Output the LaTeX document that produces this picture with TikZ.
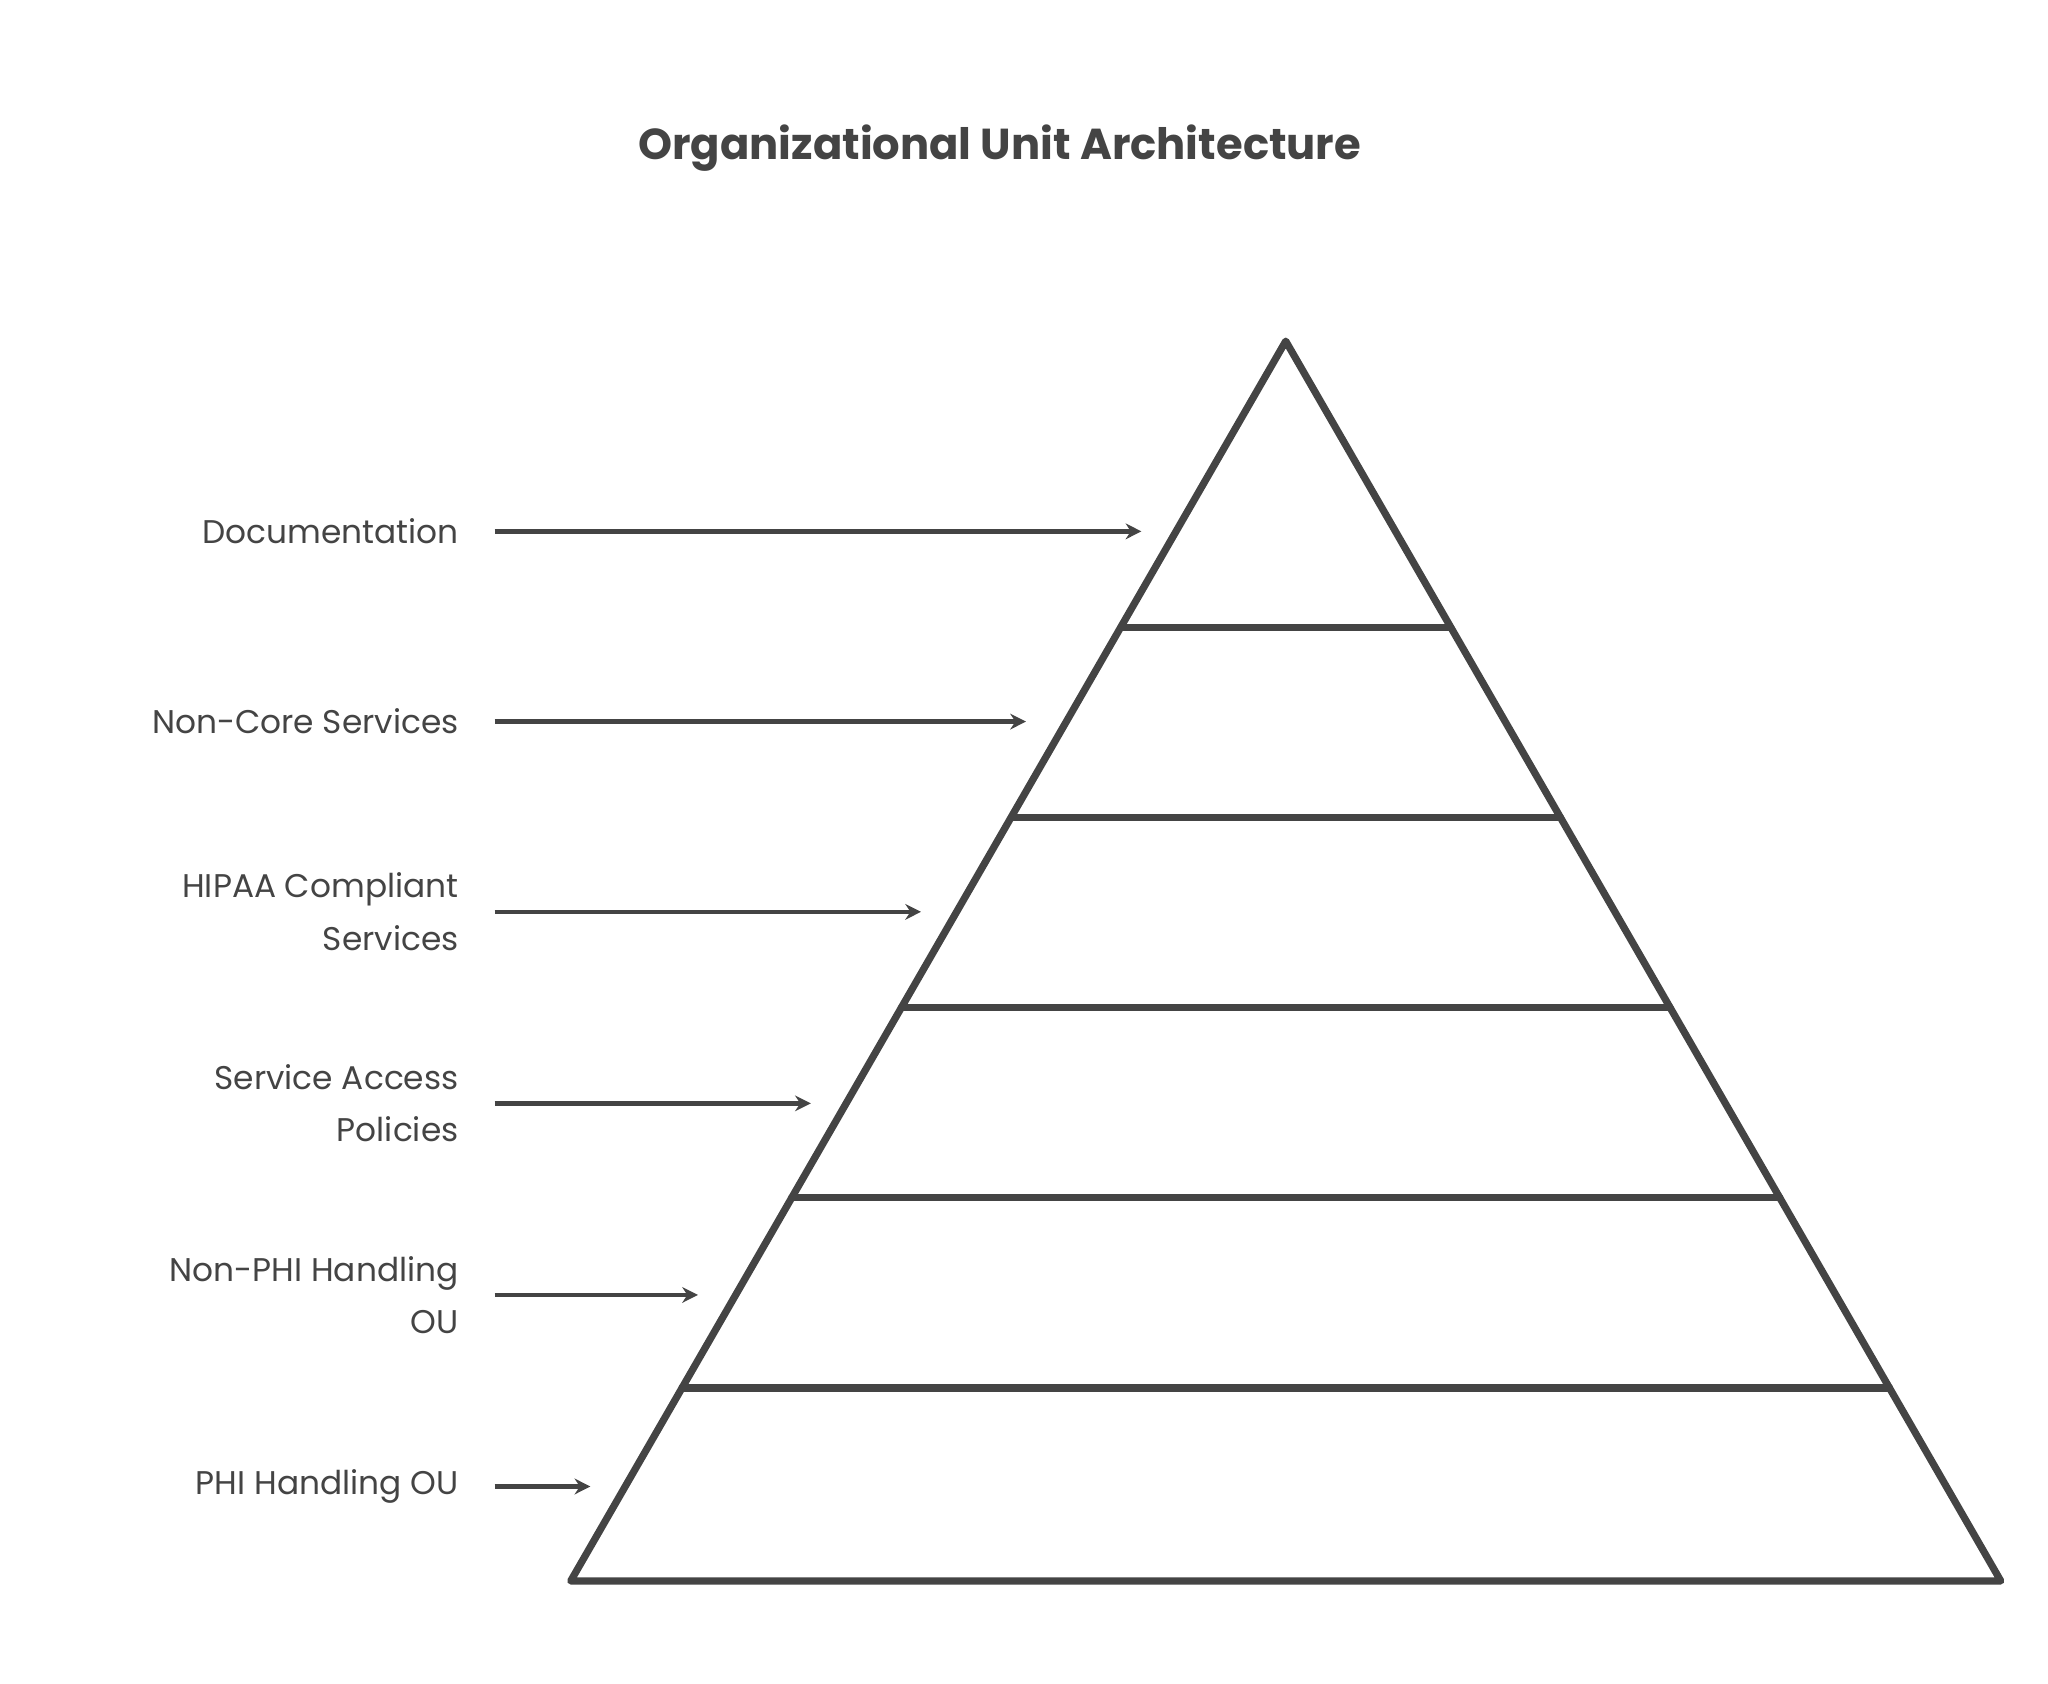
\documentclass[tikz,border=0pt]{standalone}
\usepackage{fontspec}
\setmainfont{Poppins}
\usetikzlibrary{arrows.meta}
\definecolor{ink}{HTML}{444444}
\begin{document}
\begin{tikzpicture}[x=1pt,y=-1pt,
  edge/.style={draw=ink,line width=5.5pt,line join=round,line cap=round},
  lbl/.style={anchor=east,align=right,text=ink,font=\fontsize{25}{40}\selectfont},
  arr/.style={draw=ink,line width=3.5pt,-{Stealth[length=12pt,width=12pt]}}]
\useasboundingbox (0,0) rectangle (1561,1283);
\node[text=ink,font=\bfseries\fontsize{33}{40}\selectfont] (title) at (762,113) {Organizational Unit Architecture};
\coordinate (apex) at (980,260);
\coordinate (bl) at (435,1205);
\coordinate (br) at (1525,1205);
\draw[edge] (apex) -- (bl) -- (br) -- cycle;
\foreach \y in {478,623,768,913,1058}{
  \pgfmathsetmacro\dx{(\y-260)*0.57672}
  \draw[edge] ({980-\dx},\y) -- ({980+\dx},\y);
}
\foreach \n/\y/\tx/\t in {a/405/870/Documentation,b/550/782/Non-Core Services,c/695/702/{HIPAA Compliant\\Services},d/841/618/{Service Access\\Policies},e/987/532/{Non-PHI Handling\\OU},f/1133/450/PHI Handling OU}{
  \node[lbl] (l\n) at (353,\y) {\t};
  \coordinate (t\n) at (\tx,\y);
  \draw[arr] ([xshift=24pt]l\n.east) -- (t\n);
}
\end{tikzpicture}
\end{document}
